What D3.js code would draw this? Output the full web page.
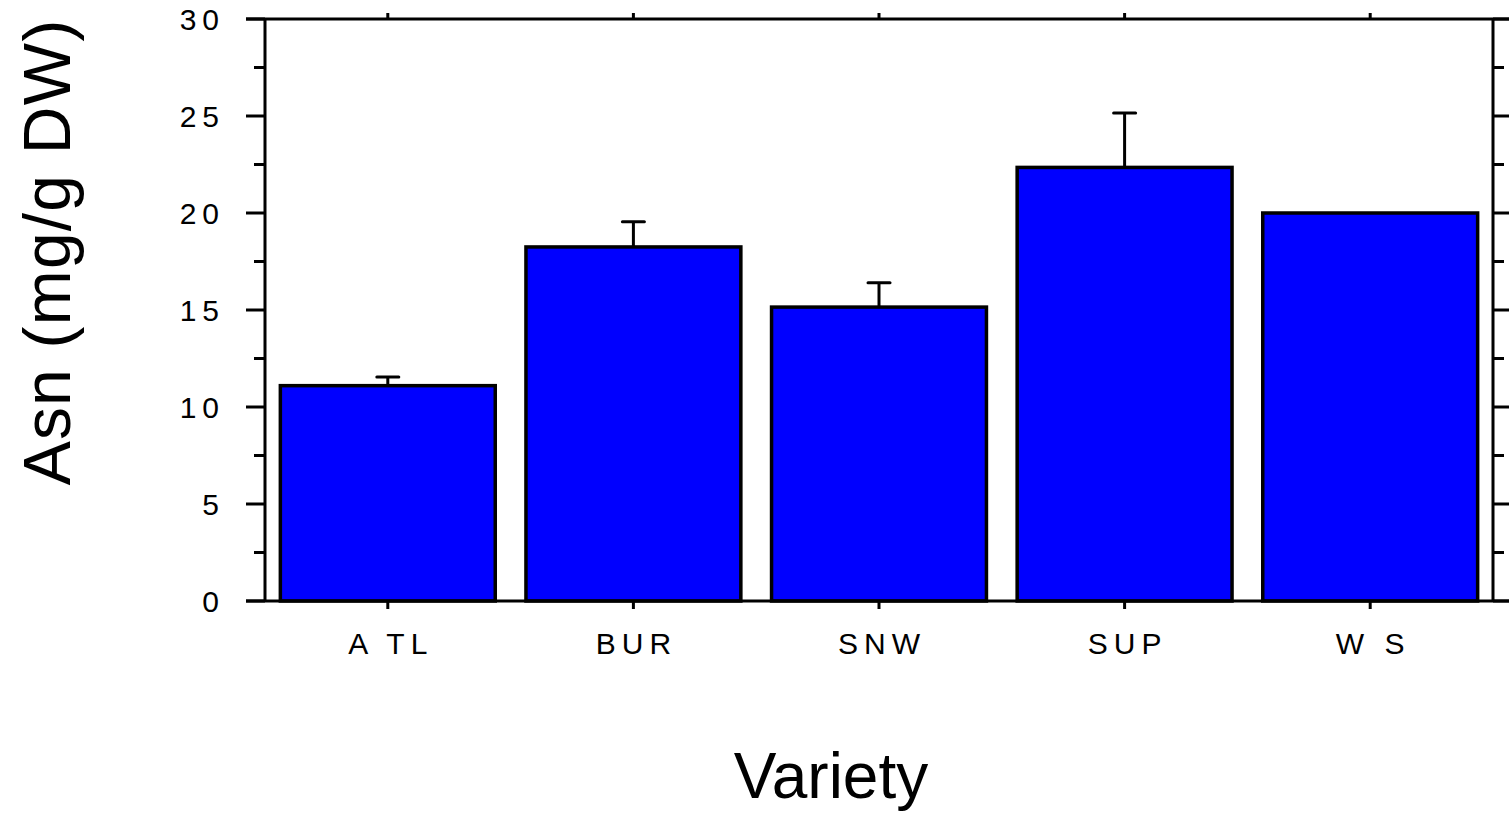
<!DOCTYPE html>
<html>
<head>
<meta charset="utf-8">
<script src="https://cdn.jsdelivr.net/npm/d3@7"></script>
<style>
    body { margin: 0; background: #fff; }
    text { font-family: "Liberation Sans", Arial, sans-serif; fill: #000; }
</style>
</head>
<body>
<svg id="chart" width="1509" height="815"></svg>
<script>
// data
const varieties = ["ATL", "BUR", "SNW", "SUP", "WS"];
const varietyLabels = ["A TL", "BUR", "SNW", "SUP", "W S"];
const asnMeans = [11.1, 18.25, 15.15, 22.35, 20.0];
const asnErrors = [0.45, 1.3, 1.25, 2.8, 0];
const yTicks = [0, 5, 10, 15, 20, 25, 30];
const yMinorTicks = [2.5, 7.5, 12.5, 17.5, 22.5, 27.5];

const svg = d3.select('#chart');

const plotLeft = 265, plotRight = 1493, plotTop = 19, plotBottom = 601;

const x = d3.scaleBand()
    .domain(varieties)
    .range([plotLeft, plotRight])
    .paddingInner(0.125)
    .paddingOuter(0.0625);

// unpadded band, used for tick / label centres
const xc = d3.scaleBand().domain(varieties).range([plotLeft, plotRight]);

const y = d3.scaleLinear().domain([0, 30]).range([plotBottom, plotTop]);

// bars
svg.append('g')
    .selectAll('rect')
    .data(varieties)
    .enter()
    .append('rect')
    .attr('x', (d) => x(d))
    .attr('y', (d, i) => y(asnMeans[i]))
    .attr('width', x.bandwidth())
    .attr('height', (d, i) => y(0) - y(asnMeans[i]))
    .attr('fill', '#0000ff')
    .attr('stroke', '#000')
    .attr('stroke-width', 3.5);

// error bars (upper only)
const err = svg.append('g').attr('stroke', '#000').attr('stroke-width', 3);
varieties.forEach((d, i) => {
    if (asnErrors[i] <= 0) return;
    let cx = xc(d) + xc.bandwidth() / 2;
    err.append('line')
        .attr('x1', cx).attr('x2', cx)
        .attr('y1', y(asnMeans[i])).attr('y2', y(asnMeans[i] + asnErrors[i]));
    err.append('line')
        .attr('x1', cx - 11).attr('x2', cx + 11)
        .attr('y1', y(asnMeans[i] + asnErrors[i])).attr('y2', y(asnMeans[i] + asnErrors[i]))
        .attr('stroke-linecap', 'round');
});

// frame
const frame = svg.append('g').attr('stroke', '#000').attr('stroke-width', 3).attr('fill', 'none');
frame.append('line').attr('x1', plotLeft).attr('x2', plotLeft).attr('y1', plotTop).attr('y2', plotBottom);
frame.append('line').attr('x1', plotRight).attr('x2', plotRight).attr('y1', plotTop).attr('y2', plotBottom);
frame.append('line').attr('x1', plotLeft - 19).attr('x2', 1509).attr('y1', plotTop).attr('y2', plotTop);
frame.append('line').attr('x1', plotLeft - 19).attr('x2', 1509).attr('y1', plotBottom).attr('y2', plotBottom);

// y ticks, left and right
yTicks.forEach((t) => {
    frame.append('line').attr('x1', plotLeft - 19).attr('x2', plotLeft).attr('y1', y(t)).attr('y2', y(t));
    frame.append('line').attr('x1', plotRight).attr('x2', plotRight + 18).attr('y1', y(t)).attr('y2', y(t));
});
yMinorTicks.forEach((t) => {
    frame.append('line').attr('x1', plotLeft - 11).attr('x2', plotLeft).attr('y1', y(t)).attr('y2', y(t));
    frame.append('line').attr('x1', plotRight).attr('x2', plotRight + 11).attr('y1', y(t)).attr('y2', y(t));
});

// x ticks on top and bottom
varieties.forEach((d) => {
    let cx = xc(d) + xc.bandwidth() / 2;
    frame.append('line').attr('x1', cx).attr('x2', cx).attr('y1', plotTop - 6).attr('y2', plotTop);
    frame.append('line').attr('x1', cx).attr('x2', cx).attr('y1', plotBottom).attr('y2', plotBottom + 8);
});

// tick labels
svg.append('g')
    .selectAll('text')
    .data(yTicks)
    .enter()
    .append('text')
    .attr('x', 225)
    .attr('y', (d) => y(d))
    .attr('dy', '0.38em')
    .attr('text-anchor', 'end')
    .attr('font-size', 30)
    .attr('letter-spacing', 6)
    .text((d) => d);

svg.append('g')
    .selectAll('text')
    .data(varieties)
    .enter()
    .append('text')
    .attr('x', (d) => xc(d) + xc.bandwidth() / 2 + 3)
    .attr('y', 643)
    .attr('dy', '0.36em')
    .attr('text-anchor', 'middle')
    .attr('font-size', 30)
    .attr('letter-spacing', 6)
    .text((d, i) => varietyLabels[i]);

// axis titles
svg.append('text')
    .attr('x', 831)
    .attr('y', 798)
    .attr('text-anchor', 'middle')
    .attr('font-size', 64)
    .text('Variety');

svg.append('text')
    .attr('transform', 'translate(46,252) rotate(-90)')
    .attr('dy', '0.36em')
    .attr('text-anchor', 'middle')
    .attr('font-size', 66)
    .attr('letter-spacing', 1.2)
    .text('Asn (mg/g DW)');
</script>
</body>
</html>
